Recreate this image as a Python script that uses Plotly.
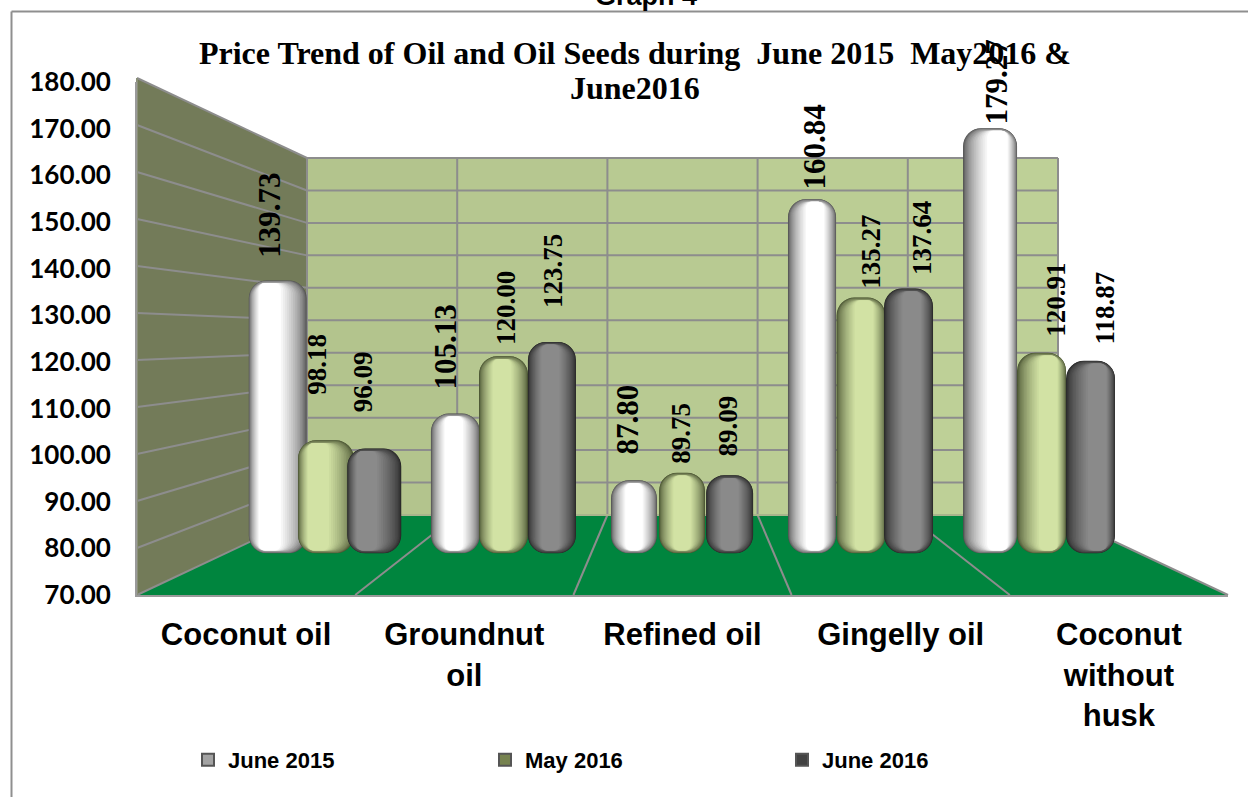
import plotly.graph_objects as go

# ---------- data ----------
CATEGORIES = ["Coconut oil", "Groundnut<br>oil", "Refined oil", "Gingelly oil", "Coconut<br>without<br>husk"]
SERIES_NAMES = ["June 2015", "May 2016", "June 2016"]
JUNE_2015 = [139.73, 105.13, 87.80, 160.84, 179.27]
MAY_2016 = [98.18, 120.00, 89.75, 135.27, 120.91]
JUNE_2016 = [96.09, 123.75, 89.09, 137.64, 118.87]
Y_TICKS = [70, 80, 90, 100, 110, 120, 130, 140, 150, 160, 170, 180]
TITLE_LINE_1 = "Price Trend of Oil and Oil Seeds during  June 2015  May2016 &"
TITLE_LINE_2 = "June2016"

SERIES = [JUNE_2015, MAY_2016, JUNE_2016]

# ---------- style / layout constants ----------
W, H = 1248, 797
FRONT_L, FRONT_R, FRONT_TOP, FRONT_BOT = 137, 1228, 78, 595
BACK_L, BACK_R, BACK_TOP, BACK_BOT = 307, 1058, 158, 515
GRID = "#8d8d8d"

BAR_BASE_PX = 548.5
BAR_SCALE = 3.88          # px per unit at the depth of the cylinders
GROUP_PX0, GROUP_PX_STEP = 326, 178.75
SERIES_OFFSET = [-0.27, 0.0, 0.27]
BAR_OFFSET = [[-0.270, -0.276, -0.277, -0.281, -0.285],
              [0.000, -0.007, -0.008, -0.007, 0.003],
              [0.270, 0.264, 0.258, 0.259, 0.277]]
BAR_WIDTH = [[0.324, 0.274, 0.257, 0.269, 0.302],
             [0.313, 0.274, 0.257, 0.274, 0.274],
             [0.302, 0.269, 0.263, 0.274, 0.274]]
HIGHLIGHT_SHIFT = [-0.22, -0.05, 0.0, 0.1, 0.22]
EDGE = ["#505050", "#46502f", "#262626"]
CORE = ["#ffffff", "#d2e2a4", "#8a8a8a"]
LEGEND_SWATCH = ["#a3a3a3", "#76824f", "#424242"]
N_LEVELS = 16
RADIUS = 18
BAR_FLOOR = 68.85

LABEL_SIZE = [31, 27, 27]
LABEL_DX = [[-8, -11, -8, 1, 4], [-9, 2, -2, 8, 15], [-11, 0, -4, 12, 16]]
LABEL_DY = [[22, 23, 25, 9, 3], [44, 10, 8, 8, 15], [35, 33, 18, 12, 15]]


def px(x):
    return x / W


def py(y):
    return (H - y) / H


def mix(a, b, t):
    a = [int(a[i:i + 2], 16) for i in (1, 3, 5)]
    b = [int(b[i:i + 2], 16) for i in (1, 3, 5)]
    return "rgb(%d,%d,%d)" % tuple(round(p + (q - p) * t) for p, q in zip(a, b))


fig = go.Figure()

# legend entries + category axis anchor
for i, name in enumerate(SERIES_NAMES):
    fig.add_trace(go.Scatter(
        x=CATEGORIES, y=[None] * len(CATEGORIES), name=name, mode="markers",
        marker=dict(symbol="square", size=14, color=LEGEND_SWATCH[i], line=dict(color="#555555", width=1)),
        xaxis="x", yaxis="y", hoverinfo="skip", showlegend=True,
    ))

# cylinders: nested bars give the shaded look
for s, values in enumerate(SERIES):
    for lv in range(N_LEVELS):
        t = lv / (N_LEVELS - 1)
        frac = 1 - 0.62 * t ** 1.25
        color = mix(EDGE[s], CORE[s], t ** 0.75)
        widths = [BAR_WIDTH[s][k] * frac for k in range(len(values))]
        xs = [k + BAR_OFFSET[s][k] + HIGHLIGHT_SHIFT[k] * BAR_WIDTH[s][k] * (1 - frac) for k in range(len(values))]
        inset = min((1 - frac) * 3.0, 0.7)
        low = BAR_FLOOR + inset
        fig.add_trace(go.Bar(
            x=xs, y=[v - inset - low for v in values], base=low, width=widths,
            marker=dict(color=color, cornerradius=RADIUS * frac, line=dict(width=0)),
            xaxis="x2", yaxis="y2", showlegend=False, hoverinfo="skip",
        ))

# ---------- walls, floor, grid ----------
shapes = []


def poly(points, fill):
    path = "M " + " L ".join(f"{px(a):.5f},{py(b):.5f}" for a, b in points) + " Z"
    shapes.append(dict(type="path", xref="paper", yref="paper", path=path, fillcolor=fill,
                       line=dict(width=0), layer="below"))


def line(x0, y0, x1, y1, width=2, color=GRID):
    shapes.append(dict(type="line", xref="paper", yref="paper", x0=px(x0), y0=py(y0), x1=px(x1), y1=py(y1),
                       line=dict(color=color, width=width), layer="below"))


poly([(FRONT_L, FRONT_TOP), (BACK_L, BACK_TOP), (BACK_L, BACK_BOT), (FRONT_L, FRONT_BOT)], "#737b59")
n_panel = 5
step = (BACK_R - BACK_L) / n_panel
for i in range(n_panel):
    poly([(BACK_L + i * step, BACK_TOP), (BACK_L + (i + 1) * step, BACK_TOP),
          (BACK_L + (i + 1) * step, BACK_BOT), (BACK_L + i * step, BACK_BOT)],
         mix("#b2c38c", "#bfd198", (i + 0.5) / n_panel))
poly([(FRONT_L, FRONT_BOT), (BACK_L, BACK_BOT), (BACK_R, BACK_BOT), (FRONT_R, FRONT_BOT)], "#00853e")

span = Y_TICKS[-1] - Y_TICKS[0]
for v in Y_TICKS[1:]:
    f = (v - Y_TICKS[0]) / span
    yf = FRONT_BOT - f * (FRONT_BOT - FRONT_TOP)
    yb = BACK_BOT - f * (BACK_BOT - BACK_TOP)
    line(FRONT_L, yf, BACK_L, yb)
    line(BACK_L, yb, BACK_R, yb)
for i in range(n_panel + 1):
    xb = BACK_L + i * step
    xf = FRONT_L + i * (FRONT_R - FRONT_L) / n_panel
    line(xb, BACK_TOP, xb, BACK_BOT)
    line(xb, BACK_BOT, xf, FRONT_BOT)
line(BACK_L, BACK_BOT, BACK_R, BACK_BOT, color="#a9b48c")
line(FRONT_L, FRONT_TOP, FRONT_L, FRONT_BOT, color="#8a8f78")
# outer chart frame
line(11.5, 11.5, W, 11.5, color="#8f8f8f")
line(11.5, 11.5, 11.5, H, color="#8f8f8f")

# ---------- value labels ----------
annotations = []
for s, values in enumerate(SERIES):
    for k, v in enumerate(values):
        annotations.append(dict(
            x=k + SERIES_OFFSET[s], y=v, xref="x2", yref="y2", text=f"{v:.2f}", showarrow=False, textangle=-90,
            xanchor="center", yanchor="bottom", xshift=LABEL_DX[s][k], yshift=LABEL_DY[s][k], borderpad=0,
            font=dict(family="Liberation Serif", size=LABEL_SIZE[s], color="black", weight="bold"),
        ))
annotations.append(dict(
    x=px(646), y=py(-4), xref="paper", yref="paper", text="<b>Graph 4</b>", showarrow=False,
    xanchor="center", yanchor="middle", font=dict(family="Liberation Sans", size=27, color="black"),
))
annotations.append(dict(
    x=px(635), y=py(88), xref="paper", yref="paper", text=TITLE_LINE_2, showarrow=False,
    xanchor="center", yanchor="middle",
    font=dict(family="Liberation Serif", size=32, color="black", weight="bold"),
))

y2_top = 70 + (BAR_BASE_PX - FRONT_TOP) / BAR_SCALE
y2_bot = 70 - (FRONT_BOT - BAR_BASE_PX) / BAR_SCALE
x2_lo = (FRONT_L - GROUP_PX0) / GROUP_PX_STEP
x2_hi = (FRONT_R - GROUP_PX0) / GROUP_PX_STEP

fig.update_layout(
    width=W, height=H, margin=dict(l=0, r=0, t=0, b=0, autoexpand=False), autosize=False,
    paper_bgcolor="white", plot_bgcolor="rgba(0,0,0,0)",
    barmode="overlay", shapes=shapes, annotations=annotations,
    title=dict(text=TITLE_LINE_1, x=635 / W, xanchor="center", y=py(53), yanchor="middle",
               font=dict(family="Liberation Serif", size=32, color="black", weight="bold")),
    xaxis=dict(domain=[px(FRONT_L), px(FRONT_R)], type="category", categoryorder="array", categoryarray=CATEGORIES,
               range=[-0.5, 4.5], showgrid=False, zeroline=False, showline=True, linecolor="#9a9a9a", linewidth=2,
               ticks="", ticklabelstandoff=11, tickangle=0,
               tickfont=dict(family="Liberation Sans", size=31, color="black", weight="bold")),
    yaxis=dict(domain=[py(FRONT_BOT), py(82)], range=[Y_TICKS[0], Y_TICKS[-1]], tickvals=Y_TICKS,
               tickformat=".2f", showgrid=False, zeroline=False, showline=True, linecolor="#9a9a9a", linewidth=2,
               ticks="", ticklabelstandoff=19,
               tickfont=dict(family="Lato", size=26, color="black", weight="bold")),
    xaxis2=dict(domain=[px(FRONT_L), px(FRONT_R)], overlaying="x", range=[x2_lo, x2_hi], visible=False),
    yaxis2=dict(domain=[py(FRONT_BOT), py(FRONT_TOP)], overlaying="y", range=[y2_bot, y2_top], visible=False),
    legend=dict(orientation="h", x=px(188), xanchor="left", y=py(760), yanchor="middle",
                entrywidth=252, entrywidthmode="pixels", itemsizing="constant", bgcolor="rgba(0,0,0,0)",
                font=dict(family="Liberation Sans", size=22, color="black", weight="bold")),
)

fig.write_html("out.html", config={"displayModeBar": False}, post_script="document.body.style.margin='0';")
